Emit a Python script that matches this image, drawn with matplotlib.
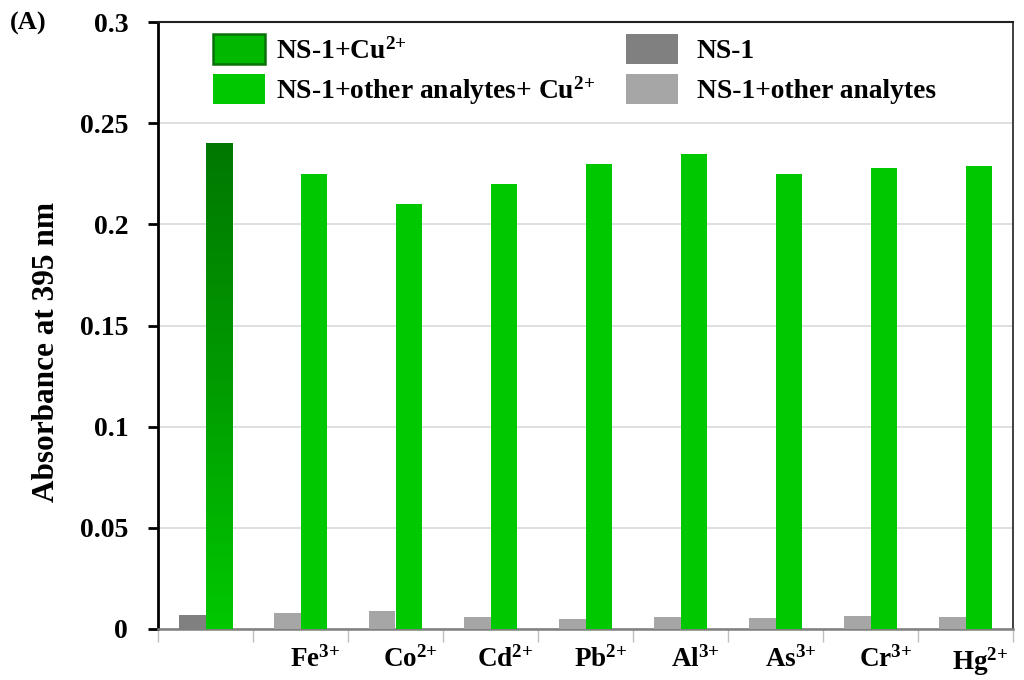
import numpy as np
import matplotlib
matplotlib.use("Agg")
import matplotlib.pyplot as plt
import matplotlib.transforms as mtransforms
from matplotlib.patches import Patch
from matplotlib.colors import LinearSegmentedColormap
from matplotlib.ticker import FuncFormatter, FixedLocator

# ---- data ----
categories = ["", "Fe$^{3{+}}$", "Co$^{2{+}}$", "Cd$^{2{+}}$", "Pb$^{2{+}}$",
              "Al$^{3{+}}$", "As$^{3{+}}$", "Cr$^{3{+}}$", "Hg$^{2{+}}$"]
with_cu = [0.240, 0.225, 0.210, 0.220, 0.230, 0.235, 0.225, 0.228, 0.229]
without_cu = [0.007, 0.008, 0.009, 0.006, 0.005, 0.006, 0.0055, 0.0065, 0.006]
legend_labels = ["NS-1+Cu$^{2{+}}$", "NS-1+other analytes+ Cu$^{2{+}}$",
                 "NS-1", "NS-1+other analytes"]
yticks = [0, 0.05, 0.1, 0.15, 0.2, 0.25, 0.3]

# ---- style ----
plt.rcParams["font.family"] = ["Liberation Serif", "DejaVu Serif"]
plt.rcParams["font.weight"] = "bold"
plt.rcParams["mathtext.fontset"] = "custom"
plt.rcParams["mathtext.rm"] = "Liberation Serif:bold"
plt.rcParams["mathtext.it"] = "Liberation Serif:bold"
plt.rcParams["mathtext.bf"] = "Liberation Serif:bold"
plt.rcParams["mathtext.default"] = "rm"

GREEN = "#00C800"
DARK_GREEN = "#007800"
GREY_DARK = "#808080"
GREY_LIGHT = "#A6A6A6"

fig = plt.figure(figsize=(10.24, 6.8), dpi=100)
ax = fig.add_axes([158 / 1024, 1 - 629 / 680, (1013 - 158) / 1024, (629 - 22) / 680])

n = len(categories)
centers = np.arange(n) + 0.5
w = 0.284

grey_colors = [GREY_DARK] + [GREY_LIGHT] * (n - 1)
ax.bar(centers - w / 2, without_cu, width=w, color=grey_colors, zorder=3)
green_bars = ax.bar(centers + w / 2, with_cu, width=w, color=GREEN, zorder=3)

# vertical shading on the reference Cu2+ bar: dark at top, bright at the base
first = green_bars[0]
cmap = LinearSegmentedColormap.from_list("g", [GREEN, "#009C00", DARK_GREEN])
grad = np.linspace(0, 1, 256).reshape(-1, 1)
x0, bw, h = first.get_x(), first.get_width(), first.get_height()
im = ax.imshow(grad, cmap=cmap, origin="lower", aspect="auto",
               extent=(x0, x0 + bw, 0, h), zorder=4)
im.set_clip_path(first)

ax.set_xlim(0, n)
ax.set_ylim(0, 0.3)

# grid
ax.set_yticks(yticks)
ax.yaxis.set_major_formatter(FuncFormatter(lambda v, p: "%g" % v))
ax.grid(axis="y", color="#D9D9D9", linewidth=1.2, zorder=0)
ax.set_axisbelow(True)

# spines
ax.spines["left"].set_color("black")
ax.spines["left"].set_linewidth(2)
ax.spines["bottom"].set_color("#7F7F7F")
ax.spines["bottom"].set_linewidth(1.8)
ax.spines["top"].set_color("#202020")
ax.spines["top"].set_linewidth(1.5)
ax.spines["right"].set_color("#202020")
ax.spines["right"].set_linewidth(1.2)

ax.tick_params(axis="y", direction="out", length=7, width=2, color="black",
               labelsize=20, pad=14.5)

# category boundary ticks + centred labels
ax.xaxis.set_major_locator(FixedLocator(np.arange(n + 1)))
ax.xaxis.set_major_formatter(FuncFormatter(lambda v, p: ""))
ax.xaxis.set_minor_locator(FixedLocator(centers))
ax.set_xticklabels(categories, minor=True)
ax.tick_params(axis="x", which="major", direction="out", length=9, width=1,
               color="#BFBFBF")
ax.tick_params(axis="x", which="minor", length=0, labelsize=19.5, pad=12)
offset = mtransforms.ScaledTranslation(15 / 100, 0, fig.dpi_scale_trans)
for lab in ax.xaxis.get_minorticklabels():
    lab.set_transform(lab.get_transform() + offset)

ax.set_ylabel("Absorbance at 395 nm", fontsize=22.5, fontweight="bold")
ax.yaxis.set_label_coords(-0.113, 0.456)

handles = [
    Patch(facecolor="#00B800", edgecolor="#0A700A", linewidth=1.8),
    Patch(facecolor=GREEN, edgecolor="none"),
    Patch(facecolor=GREY_DARK, edgecolor="none"),
    Patch(facecolor=GREY_LIGHT, edgecolor="none"),
]
leg_kw = dict(frameon=False, loc="upper left", fontsize=19.8,
              handlelength=1.9, handleheight=1.3, labelspacing=0.36,
              borderaxespad=0, borderpad=0)
leg1 = ax.legend(handles[:2], legend_labels[:2], handletextpad=0.4,
                 bbox_to_anchor=((213 - 158) / 855, (629 - 34) / 607), **leg_kw)
ax.add_artist(leg1)
ax.legend(handles[2:], legend_labels[2:], handletextpad=0.68,
          bbox_to_anchor=((626 - 158) / 855, (629 - 34) / 607), **leg_kw)

fig.text(10 / 1024, 1 - 23 / 680, "(A)", fontsize=19, fontweight="bold",
         va="center", ha="left")

fig.savefig("out.png", dpi=100)
